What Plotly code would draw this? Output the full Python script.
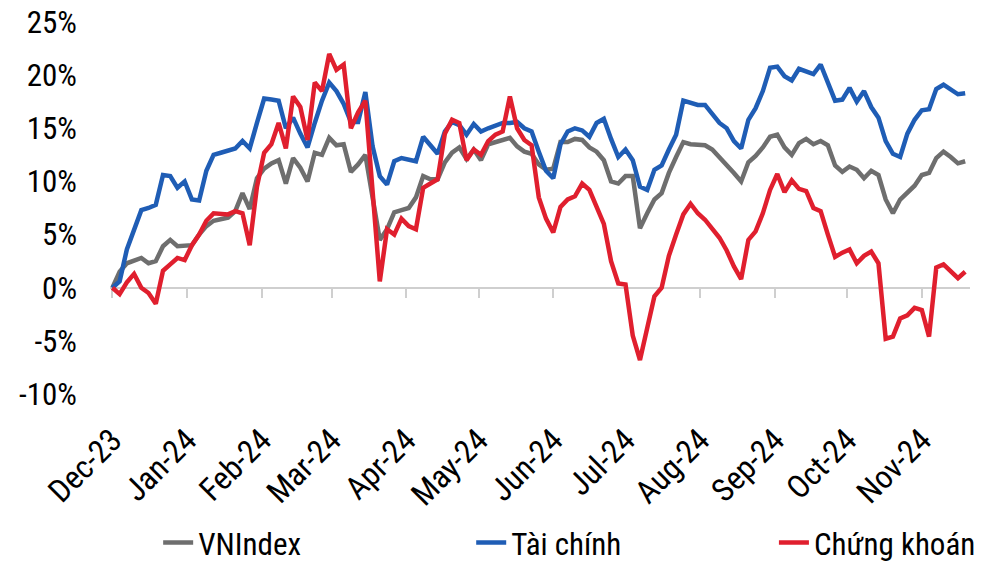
import pandas as pd
import plotly.graph_objects as go

# ---- data (cumulative return, %), sampled every 3 calendar days ----
start_date = "2023-12-29"
n_points = 119
dates = pd.date_range(start_date, periods=n_points, freq="3D")

vnindex = [0, 1.5, 2.3, 2.6, 2.8, 2.3, 2.5, 3.9, 4.5, 3.9,
           3.9, 4.0, 5.0, 5.8, 6.3, 6.4, 6.6, 7.2, 8.9, 7.4,
           10.3, 11.2, 11.7, 12.0, 9.8, 12.2, 11.3, 10.0, 12.7, 12.5,
           14.1, 13.4, 13.5, 10.9, 11.6, 12.5, 8.5, 4.5, 5.5, 7.1,
           7.3, 7.5, 8.5, 10.5, 10.2, 10.2, 11.8, 12.7, 13.2, 12.1,
           13.0, 12.0, 13.5, 13.7, 14.0, 14.1, 13.3, 12.8, 12.6, 11.6,
           11.1, 11.2, 13.7, 13.7, 14.0, 13.9, 13.2, 12.8, 12.0, 10.0,
           9.8, 10.5, 10.5, 5.6, 7.0, 8.3, 8.9, 10.8, 12.3, 13.7,
           13.5, 13.4, 13.4, 13.0, 12.3, 11.6, 10.8, 10.0, 11.8, 12.4,
           13.2, 14.2, 14.4, 13.2, 12.5, 13.6, 14.0, 13.5, 13.8, 13.4,
           11.5, 10.9, 11.4, 11.1, 10.3, 11.0, 10.6, 8.3, 7.0, 8.3,
           8.9, 9.6, 10.6, 10.8, 12.2, 12.8, 12.3, 11.7, 11.9]

tai_chinh = [0, 0.6, 3.6, 5.5, 7.3, 7.5, 7.8, 10.6, 10.5, 9.4,
             10.0, 8.3, 8.2, 11.0, 12.5, 12.7, 12.9, 13.1, 13.8, 13.1,
             15.5, 17.8, 17.7, 17.6, 15.0, 16.0, 14.5, 13.2, 15.5, 17.6,
             19.3, 18.5, 17.3, 15.6, 15.6, 18.4, 13.3, 10.5, 9.7, 11.9,
             12.2, 12.1, 11.9, 14.2, 13.4, 12.6, 14.7, 15.6, 15.3, 14.4,
             15.4, 14.7, 15.0, 15.3, 15.5, 15.5, 15.6, 15.0, 14.7, 12.8,
             11.0, 10.3, 13.5, 14.7, 15.0, 14.8, 14.2, 15.5, 15.9, 14.0,
             12.3, 13.0, 12.0, 9.5, 9.2, 11.1, 11.5, 13.0, 14.4, 17.6,
             17.4, 17.2, 17.2, 16.3, 15.5, 15.0, 13.8, 13.1, 15.8, 16.9,
             18.5, 20.7, 20.8, 19.9, 19.5, 20.6, 20.4, 20.1, 21.0, 19.3,
             17.6, 17.7, 18.8, 17.5, 18.5, 17.0, 16.0, 13.8, 12.6, 12.3,
             14.5, 15.8, 16.7, 16.8, 18.7, 19.1, 18.6, 18.2, 18.3]

chung_khoan = [0, -0.6, 0.5, 1.3, 0.0, -0.5, -1.5, 1.6, 2.2, 2.8,
               2.6, 4.0, 5.0, 6.3, 7.0, 6.9, 6.9, 7.2, 7.0, 4.0,
               9.5, 12.7, 13.5, 15.5, 13.1, 18.0, 17.0, 13.9, 19.3, 18.5,
               22.0, 20.5, 21.0, 15.0, 16.5, 17.6, 9.5, 0.6, 5.5, 5.0,
               6.5, 5.8, 5.5, 9.4, 9.8, 10.2, 14.5, 15.8, 15.5, 12.0,
               13.0, 12.5, 13.8, 14.4, 14.7, 18.0, 15.0, 13.9, 13.4, 8.5,
               6.5, 5.2, 7.6, 8.3, 8.6, 9.8, 9.2, 7.5, 6.0, 2.5,
               0.4, 0.3, -4.5, -6.8, -3.8, -0.8, 0.0, 3.0, 5.0, 6.9,
               7.9, 7.0, 6.4, 5.5, 4.7, 3.5, 2.0, 0.8, 4.5, 5.3,
               7.0, 9.2, 10.7, 9.0, 10.1, 9.3, 9.1, 7.5, 7.2, 5.0,
               2.9, 3.3, 3.6, 2.3, 3.0, 3.4, 2.3, -4.8, -4.6, -2.9,
               -2.6, -1.9, -2.1, -4.6, 1.9, 2.2, 1.6, 0.9, 1.5]

series_names = ["VNIndex", "Tài chính", "Chứng khoán"]
series_colors = ["#6E6E6E", "#1F5DB5", "#E01F2E"]

month_ticks = ["2023-12-29", "2024-01-29", "2024-02-29", "2024-03-29",
               "2024-04-29", "2024-05-29", "2024-06-29", "2024-07-29",
               "2024-08-29", "2024-09-29", "2024-10-29", "2024-11-29"]
month_labels = ["Dec-23", "Jan-24", "Feb-24", "Mar-24", "Apr-24", "May-24",
                "Jun-24", "Jul-24", "Aug-24", "Sep-24", "Oct-24", "Nov-24"]

y_ticks = [-10, -5, 0, 5, 10, 15, 20, 25]
y_labels = ["-10%", "-5%", "0%", "5%", "10%", "15%", "20%", "25%"]

FONT = "Liberation Sans Narrow, Arial Narrow, Roboto Condensed, DejaVu Sans Condensed, sans-serif"
x_range = ["2023-12-28", "2024-12-19"]
y_range = [-10, 25]

fig = go.Figure()
legends = ["legend", "legend2", "legend3"]
xaxes_for = ["x", "x2", "x2"]   # gray drawn first (bottom), blue/red above
for name, vals, color, lg, xa in zip(series_names, [vnindex, tai_chinh, chung_khoan],
                                     series_colors, legends, xaxes_for):
    fig.add_trace(go.Scatter(
        x=dates, y=vals, mode="lines", name=name, legend=lg, xaxis=xa,
        line=dict(color=color, width=4.5),
    ))

legend_common = dict(orientation="h", yanchor="middle", xanchor="left",
                     font=dict(family=FONT, size=31, color="black"),
                     bgcolor="rgba(0,0,0,0)")

fig.update_layout(
    width=1000, height=562,
    margin=dict(l=110, r=30, t=22, b=168, autoexpand=False),
    paper_bgcolor="white", plot_bgcolor="white",
    font=dict(family=FONT, size=31, color="black"),
    showlegend=True,
    legend=dict(x=0.056, y=-0.40, **legend_common),
    legend2=dict(x=0.420, y=-0.40, **legend_common),
    legend3=dict(x=0.772, y=-0.40, **legend_common),
    xaxis=dict(
        type="date", range=x_range, automargin=False,
        tickmode="array", tickvals=month_ticks, ticktext=month_labels,
        tickangle=-45, showgrid=False, zeroline=False, showline=False,
        ticks="", ticklabelstandoff=20, ticklabeloverflow="allow",
        tickfont=dict(family=FONT, size=32, color="black"),
    ),
    xaxis2=dict(
        type="date", range=x_range, overlaying="x", matches="x",
        anchor="free", position=(0 - y_range[0]) / (y_range[1] - y_range[0]),
        tickmode="array", tickvals=month_ticks, showticklabels=False,
        showgrid=False, zeroline=False, automargin=False, layer="below traces",
        showline=True, linecolor="#CFCFCF", linewidth=2,
        ticks="outside", ticklen=9, tickwidth=2, tickcolor="#CFCFCF",
    ),
    yaxis=dict(
        range=y_range, tickmode="array", tickvals=y_ticks, ticktext=y_labels,
        showgrid=False, zeroline=False, showline=False, ticks="",
        ticklabelstandoff=32, automargin=False, ticklabeloverflow="allow",
        tickfont=dict(family=FONT, size=31, color="black"),
    ),
)

# remove the default page margin so the figure fills the window exactly
fig.write_html("out.html",
               config={"displayModeBar": False},
               post_script="document.body.style.margin='0';")
